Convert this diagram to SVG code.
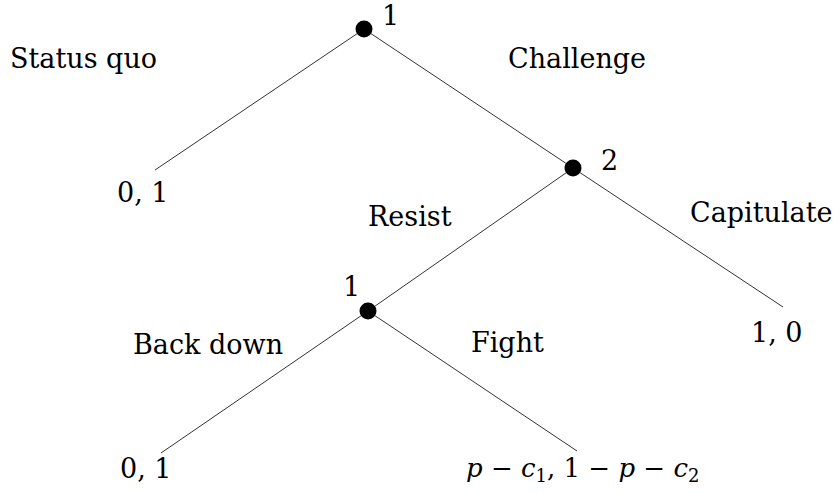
<svg xmlns="http://www.w3.org/2000/svg" width="836" height="494" viewBox="0 0 836 494">
<style>
.e{stroke:#333;stroke-width:1;fill:none}
.n{fill:#000}
.t{font-family:'DejaVu Serif',serif;font-size:27px;fill:#000}
.m{font-size:26px}
.i{font-style:italic}
.s{font-size:18px}
</style>
<rect width="836" height="494" fill="#fff"/>
<g id="edges">
<line class="e" x1="364" y1="29" x2="155" y2="170"/>
<line class="e" x1="364" y1="29" x2="573" y2="168"/>
<line class="e" x1="573" y1="168" x2="783" y2="307"/>
<line class="e" x1="573" y1="168" x2="368" y2="311"/>
<line class="e" x1="368" y1="311" x2="161" y2="453"/>
<line class="e" x1="368" y1="311" x2="577" y2="451"/>
</g>
<g id="node1"><circle class="n" cx="364" cy="29" r="8.5"/><text class="t" x="382" y="25">1</text></g>
<g id="node2"><circle class="n" cx="573" cy="168" r="8.5"/><text class="t" x="601" y="170">2</text></g>
<g id="node3"><circle class="n" cx="368" cy="311" r="8.5"/><text class="t" x="343" y="296">1</text></g>
<g id="labels">
<text class="t" x="10" y="68">Status quo</text>
<text class="t" x="508" y="68">Challenge</text>
<text class="t" x="368" y="226">Resist</text>
<text class="t" x="690" y="222">Capitulate</text>
<text class="t" x="133" y="354">Back down</text>
<text class="t" x="471" y="352">Fight</text>
</g>
<g id="payoffs">
<text class="t" x="117" y="202">0, 1</text>
<text class="t" x="751" y="342">1, 0</text>
<text class="t" x="120" y="478">0, 1</text>
<text class="t m" x="466" y="477"><tspan class="i">p</tspan> − <tspan class="i">c</tspan><tspan class="s" dy="5">1</tspan><tspan dy="-5">, 1 − </tspan><tspan class="i">p</tspan> − <tspan class="i">c</tspan><tspan class="s" dy="5">2</tspan></text>
</g>
</svg>
